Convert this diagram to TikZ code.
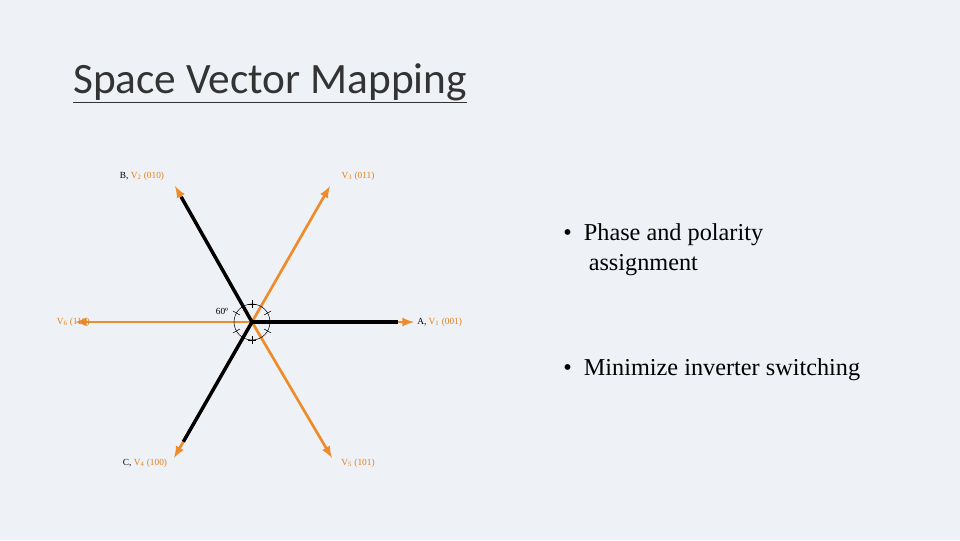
\documentclass[tikz,border=0pt]{standalone}
\usepackage{fontspec}
\usetikzlibrary{calc}
\setmainfont{Liberation Serif}
\newfontfamily\titlefont{Carlito}
\begin{document}
\begin{tikzpicture}[x=0.75pt,y=-0.75pt,
  orng/.style={draw=orange!70!brown!90, line width=2pt, -latex},
  blk/.style={draw=black, line width=2.6pt},
  lbl/.style={font=\fontsize{7}{8}\selectfont, inner sep=0pt},
  ol/.style={text=orange!60!brown}]
\definecolor{bg}{HTML}{EEF2F6}
\fill[bg] (0,0) rectangle (960,540);
\useasboundingbox (0,0) rectangle (960,540);
\node[anchor=base west, inner sep=0pt, font=\titlefont\fontsize{32.5}{36}\selectfont, text=black!80] (title) at (73,93) {\underline{Space Vector Mapping}};
\coordinate (O) at (252,322);
\coordinate (pA) at (414,322);
\coordinate (pB) at (175,186);
\coordinate (pC) at (174,458);
\coordinate (p3) at (330,186);
\coordinate (p6) at (75,322);
\coordinate (p5) at (332,458);
\draw[orng] (O) -- (p3);
\draw[orng] (O) -- (p6);
\draw[orng] (O) -- (p5);
\draw[orng] (O) -- (pA);
\draw[orng] (O) -- (pB);
\draw[orng] (O) -- (pC);
\draw[blk] (O) -- ($(O)!0.9!(pA)$);
\draw[blk] (O) -- ($(O)!0.92!(pB)$);
\draw[blk] (O) -- ($(O)!0.88!(pC)$);
\draw[thin] (O) circle[radius=18];
\foreach \a in {30,90,150,210,270,330} \draw[thin] ($(O)+(\a:14)$) -- ($(O)+(\a:22)$);
\foreach \a in {90,270} \draw[thin] ($(O)+(\a:18)+(-4,0)$) -- ($(O)+(\a:18)+(4,0)$);
\node[lbl] (ang) at (222,311) {60º};
\node[lbl, anchor=west] (lA) at (417,322) {A, \textcolor{orange!60!brown}{V\textsubscript{1} (001)}};
\node[lbl] (lB) at (142,176) {B, \textcolor{orange!60!brown}{V\textsubscript{2} (010)}};
\node[lbl, ol] (l3) at (358,176) {V\textsubscript{3} (011)};
\node[lbl, ol, anchor=east] (l6) at (90,322) {V\textsubscript{6} (110)};
\node[lbl] (lC) at (145,463) {C, \textcolor{orange!60!brown}{V\textsubscript{4} (100)}};
\node[lbl, ol] (l5) at (358,463) {V\textsubscript{5} (101)};
\node[anchor=base west, inner sep=0pt, font=\fontsize{18.2}{22}\selectfont, align=left] (b1) at (563,270) {•\hspace{0.5em}Phase and polarity\\\hspace{1.05em}assignment};
\node[anchor=base west, inner sep=0pt, font=\fontsize{18.2}{22}\selectfont] (b2) at (563,375) {•\hspace{0.5em}Minimize inverter switching};
\end{tikzpicture}
\end{document}
